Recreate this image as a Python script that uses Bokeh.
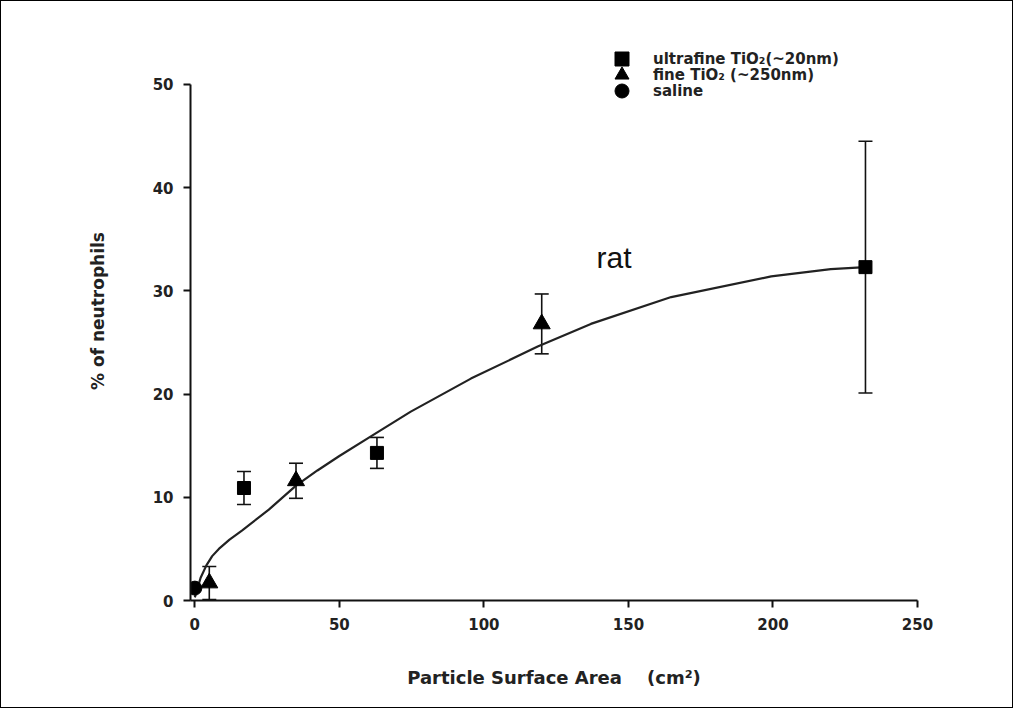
from bokeh.plotting import figure
from bokeh.models import ColumnDataSource, Whisker, TeeHead, Legend, LegendItem, Label, Range1d, FixedTicker
from bokeh.embed import file_html
from bokeh.resources import INLINE

# --- data ---
uf_x = [17, 63, 232]
uf_y = [10.9, 14.3, 32.3]
uf_err = [1.6, 1.5, 12.2]

fine_x = [5, 35, 120]
fine_y = [1.7, 11.6, 26.8]
fine_err = [1.6, 1.7, 2.9]

saline_x = [0]
saline_y = [1.2]

curve_x = [0, 2, 4, 6, 8.3, 12, 16.4, 25.6, 34.9, 42.4, 50, 60.9, 74.7, 95.5, 118.6, 137, 164.8, 199.4, 220, 232]
curve_y = [0.3, 2.2, 3.4, 4.3, 5.0, 5.9, 6.8, 8.8, 11.1, 12.6, 14.0, 15.9, 18.3, 21.5, 24.6, 26.8, 29.4, 31.4, 32.1, 32.3]

x_ticks = [0, 50, 100, 150, 200, 250]
y_ticks = [0, 10, 20, 30, 40, 50]

legend_labels = ["ultrafine TiO\u2082(~20nm)", "fine TiO\u2082 (~250nm)", "saline"]

FONT = "DejaVu Sans"

p = figure(width=1013, height=708, output_backend="svg", toolbar_location=None,
           x_range=Range1d(-1.5, 250), y_range=Range1d(0, 56.1),
           min_border_left=189, min_border_right=97, min_border_top=20, min_border_bottom=109)
p.styles = {"border": "1.5px solid black"}
p.outline_line_color = None
p.xgrid.visible = False
p.ygrid.visible = False
p.background_fill_color = "white"
p.border_fill_color = "white"

for ax in (p.xaxis[0], p.yaxis[0]):
    ax.axis_line_width = 2
    ax.axis_line_color = "#111111"
    ax.major_tick_line_width = 2
    ax.major_tick_line_color = "#111111"
    ax.major_tick_out = 7
    ax.major_tick_in = 0
    ax.minor_tick_line_color = None
    ax.major_label_text_font = FONT
    ax.major_label_text_font_style = "bold"
    ax.major_label_text_font_size = "15px"
    ax.major_label_text_color = "#222222"
    ax.axis_label_text_font = FONT
    ax.axis_label_text_font_style = "bold"
    ax.axis_label_text_color = "#222222"

p.xaxis[0].ticker = FixedTicker(ticks=x_ticks)
p.yaxis[0].ticker = FixedTicker(ticks=y_ticks)
p.yaxis[0].bounds = (0, 50)
p.xaxis[0].major_label_standoff = 10
p.yaxis[0].major_label_standoff = 10
p.xaxis[0].axis_label = "Particle Surface Area\u00a0\u00a0\u00a0\u00a0(cm\u00b2)"
p.xaxis[0].axis_label_text_font_size = "18px"
p.xaxis[0].axis_label_standoff = 34
p.yaxis[0].axis_label = "% of neutrophils"
p.yaxis[0].axis_label_text_font_size = "17px"
p.yaxis[0].axis_label_standoff = 42

# fitted curve
p.line(curve_x, curve_y, line_color="#222222", line_width=2.2)

# error bars
uf_src = ColumnDataSource(dict(x=uf_x, y=uf_y,
                               lo=[a - b for a, b in zip(uf_y, uf_err)],
                               hi=[a + b for a, b in zip(uf_y, uf_err)]))
fi_src = ColumnDataSource(dict(x=fine_x, y=fine_y,
                               lo=[max(a - b, 0) for a, b in zip(fine_y, fine_err)],
                               hi=[a + b for a, b in zip(fine_y, fine_err)]))
for src in (uf_src, fi_src):
    w = Whisker(source=src, base="x", lower="lo", upper="hi", dimension="height",
                line_color="#111111", line_width=1.6,
                upper_head=TeeHead(size=14, line_color="#111111", line_width=1.6),
                lower_head=TeeHead(size=14, line_color="#111111", line_width=1.6))
    p.add_layout(w)

r_uf = p.scatter("x", "y", source=uf_src, marker="square", size=13, color="black")
r_fi = p.scatter("x", "y", source=fi_src, marker="triangle", size=17, color="black")
r_sa = p.scatter(saline_x, saline_y, marker="circle", size=14, color="black")

# one legend per entry so that big markers can sit on 17px rows
for label, rend, ybot in zip(legend_labels, [r_uf, r_fi, r_sa], [524, 508, 492]):
    lg = Legend(items=[LegendItem(label=label, renderers=[rend])], location=(414, ybot))
    lg.label_text_font = FONT
    lg.label_text_font_style = "bold"
    lg.label_text_font_size = "15px"
    lg.label_text_color = "#222222"
    lg.label_height = 17
    lg.glyph_height = 35
    lg.glyph_width = 35
    lg.spacing = 0
    lg.padding = 2
    lg.margin = 0
    lg.label_standoff = 14
    lg.border_line_color = None
    lg.background_fill_alpha = 0
    p.add_layout(lg)

p.add_layout(Label(x=145, y=33.2, text="rat", text_font="Liberation Sans", text_font_size="30px",
                   text_align="center", text_baseline="middle", text_color="#111111"))

open("out.html", "w").write(file_html(p, INLINE))
